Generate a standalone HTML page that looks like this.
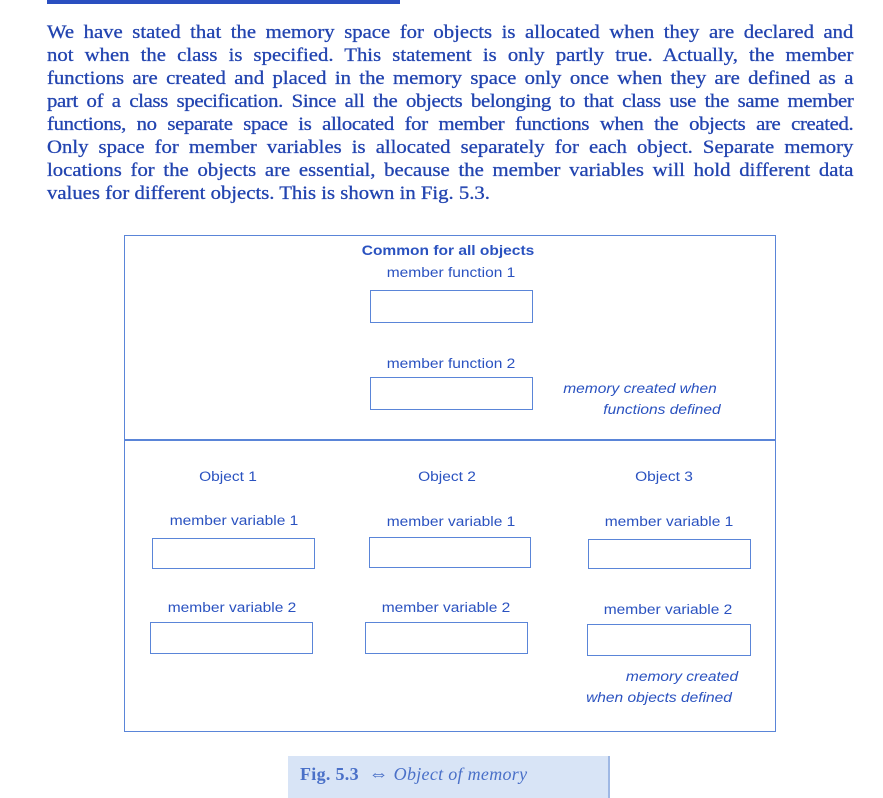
<!DOCTYPE html>
<html><head><style>
body{margin:0;width:883px;height:798px;background:#fff;position:relative;overflow:hidden}
.ln{position:absolute;left:47px;width:720px;font:18.5px "Liberation Serif",serif;color:#2244b0;text-align:justify;text-align-last:justify;white-space:nowrap;line-height:20px;transform:scaleX(1.12);transform-origin:0 0;-webkit-text-stroke:0.3px #2244b0}
.ln.last{text-align-last:left}
.d{position:absolute;font:13.5px "Liberation Sans",sans-serif;color:#2a52c0;white-space:nowrap;transform:translateX(-50%) scaleX(1.15);transform-origin:50% 0}
.i{font-style:italic}
.b{position:absolute;border:1.5px solid #5a85d8;box-sizing:border-box}
</style></head><body>
<div style="position:absolute;left:47px;top:0;width:353px;height:4px;background:#2a4fc0"></div>
<div class="ln" style="top:23px">We have stated that the memory space for objects is allocated when they are declared and</div>
<div class="ln" style="top:46px">not when the class is specified. This statement is only partly true. Actually, the member</div>
<div class="ln" style="top:69px">functions are created and placed in the memory space only once when they are defined as a</div>
<div class="ln" style="top:92px;letter-spacing:-0.3px">part of a class specification. Since all the objects belonging to that class use the same member</div>
<div class="ln" style="top:115px;letter-spacing:-0.3px">functions, no separate space is allocated for member functions when the objects are created.</div>
<div class="ln" style="top:138px">Only space for member variables is allocated separately for each object. Separate memory</div>
<div class="ln" style="top:161px">locations for the objects are essential, because the member variables will hold different data</div>
<div class="ln last" style="top:184px">values for different objects. This is shown in Fig. 5.3.</div>

<div class="b" style="left:124px;top:235px;width:652px;height:497px"></div>
<div style="position:absolute;left:124px;top:439px;width:652px;height:1.5px;background:#5a85d8"></div>

<div class="d" style="left:448px;top:243px;font-weight:bold">Common for all objects</div>
<div class="d" style="left:451px;top:265px">member function 1</div>
<div class="b" style="left:370px;top:290px;width:163px;height:33px"></div>
<div class="d" style="left:451px;top:356px">member function 2</div>
<div class="b" style="left:370px;top:377px;width:163px;height:33px"></div>
<div class="d i" style="left:640px;top:381px">memory created when</div>
<div class="d i" style="left:662px;top:402px">functions defined</div>

<div class="d" style="left:228px;top:469px">Object 1</div>
<div class="d" style="left:447px;top:469px">Object 2</div>
<div class="d" style="left:664px;top:469px">Object 3</div>

<div class="d" style="left:234px;top:513px">member variable 1</div>
<div class="d" style="left:451px;top:514px">member variable 1</div>
<div class="d" style="left:669px;top:514px">member variable 1</div>
<div class="b" style="left:152px;top:538px;width:163px;height:31px"></div>
<div class="b" style="left:369px;top:537px;width:162px;height:31px"></div>
<div class="b" style="left:588px;top:539px;width:163px;height:30px"></div>

<div class="d" style="left:232px;top:600px">member variable 2</div>
<div class="d" style="left:446px;top:600px">member variable 2</div>
<div class="d" style="left:668px;top:602px">member variable 2</div>
<div class="b" style="left:150px;top:622px;width:163px;height:32px"></div>
<div class="b" style="left:365px;top:622px;width:163px;height:32px"></div>
<div class="b" style="left:587px;top:624px;width:164px;height:32px"></div>

<div class="d i" style="left:682px;top:669px">memory created</div>
<div class="d i" style="left:659px;top:690px">when objects defined</div>

<div style="position:absolute;left:288px;top:756px;width:320px;height:42px;background:#d8e4f6;border-right:2px solid #9fb8e4"></div>
<div style="position:absolute;left:300px;top:763px;font:18px 'Liberation Serif',serif;color:#4a70c8;white-space:nowrap;letter-spacing:0.3px"><b>Fig. 5.3</b> &nbsp;<span style="font-size:20px">⇔</span> <i>Object of memory</i></div>
</body></html>
